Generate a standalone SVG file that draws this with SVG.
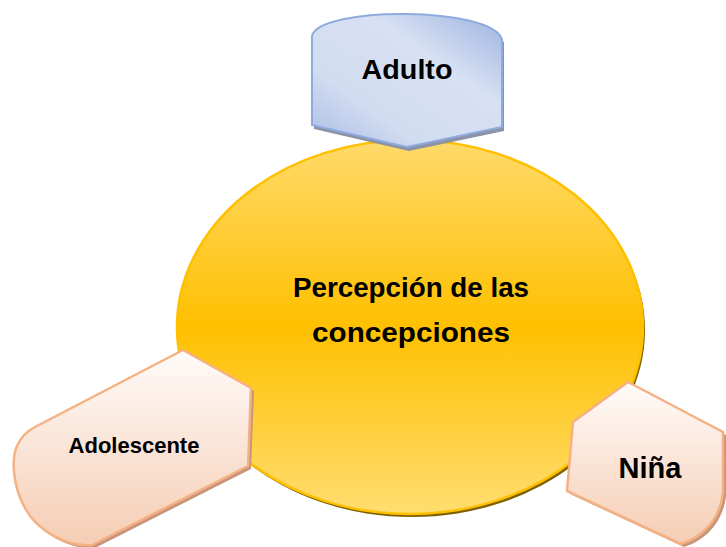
<svg xmlns="http://www.w3.org/2000/svg" width="726" height="547" viewBox="0 0 726 547">
<defs>
<linearGradient id="gEll" x1="0" y1="0" x2="0" y2="1">
<stop offset="0" stop-color="#FFDA6A"/>
<stop offset="0.5" stop-color="#FFC000"/>
<stop offset="1" stop-color="#FFDD70"/>
</linearGradient>
<linearGradient id="gBlue" x1="1" y1="0" x2="0" y2="1">
<stop offset="0" stop-color="#9CB2E0"/>
<stop offset="0.35" stop-color="#D8E1F3"/>
<stop offset="0.7" stop-color="#D2DCF1"/>
<stop offset="1" stop-color="#A9BDE5"/>
</linearGradient>
<linearGradient id="gPeach" x1="0" y1="0" x2="0" y2="1">
<stop offset="0" stop-color="#FFFBF9"/>
<stop offset="1" stop-color="#F5CDB4"/>
</linearGradient>
</defs>
<style>
.peach{fill:url(#gPeach);stroke:#F4B183;stroke-width:2.5;stroke-linejoin:round}
.pshadow{fill:#C8957A}
.lbl{font-family:"Liberation Sans",Arial,sans-serif;font-weight:bold;fill:#000;text-anchor:middle}
</style>
<g id="center">
<ellipse cx="412" cy="330" rx="233" ry="187" fill="#7F6000"/>
<ellipse cx="410" cy="327" rx="233" ry="187" fill="url(#gEll)" stroke="#FFC000" stroke-width="2.5"/>
<text class="lbl" x="411" y="297" font-size="27" textLength="236" lengthAdjust="spacingAndGlyphs">Percepción de las</text>
<text class="lbl" x="411" y="342" font-size="27" textLength="198" lengthAdjust="spacingAndGlyphs">concepciones</text>
</g>
<g id="adulto">
<path d="M314,40 C320,8 496,8 504,43 L504,131 L409,151 L314,129 Z" fill="#8A94A6"/>
<path d="M312,36 C318,6 494,6 502,40 L502,127 L407,147 L312,125 Z" fill="url(#gBlue)" stroke="#8FAADC" stroke-width="2"/>
<text class="lbl" x="407" y="79" font-size="28" textLength="91" lengthAdjust="spacingAndGlyphs">Adulto</text>
</g>
<g id="adolescente">
<path class="pshadow" d="M186,353 L254,391 L251,469 L95,548 C70,550 40,534 28,511 C16,490 14,462 20,449 C24,440 30,434 38,430 Z"/>
<path class="peach" d="M183,350 L251,388 L248,466 L92,545 C67,547 37,531 25,508 C13,487 11,459 17,446 C21,437 27,431 35,427 Z"/>
<text class="lbl" x="134" y="453" font-size="22">Adolescente</text>
</g>
<g id="nina">
<path class="pshadow" d="M631,385 L726,435 L726,496 C723,522 706,540 684,547 L570,494 L576,425 Z"/>
<path class="peach" d="M628,382 L723,432 L723,493 C720,519 703,537 681,544 L567,491 L573,422 Z"/>
<text class="lbl" x="650" y="478" font-size="29">Niña</text>
</g>
<g id="connectors"></g>
</svg>
